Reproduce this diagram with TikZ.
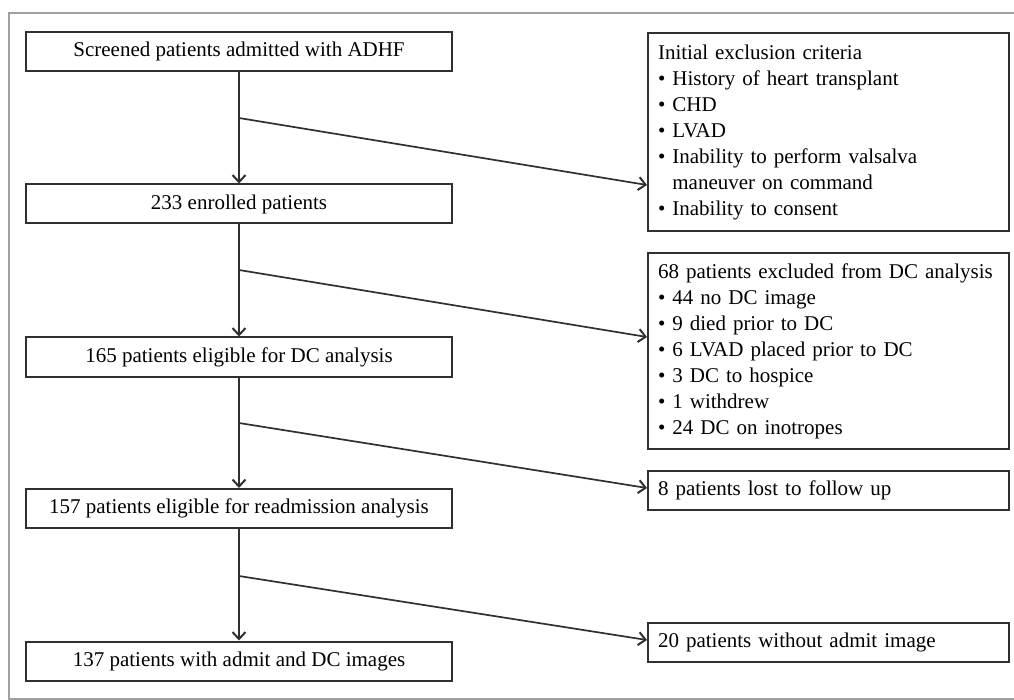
\documentclass[tikz,border=0pt]{standalone}
\usepackage{fontspec}
\setmainfont{Liberation Serif}
\usetikzlibrary{arrows.meta}
\definecolor{boxgray}{HTML}{303030}
\definecolor{framegray}{HTML}{A0A0A0}
\begin{document}
\begin{tikzpicture}[x=1pt, y=-1pt]
	\tikzstyle{stage} = [draw=boxgray, line width=2pt, minimum width=426pt, minimum height=39pt, inner sep=0pt, text=black, font=\fontsize{21}{26}\selectfont]
	\tikzstyle{excl}  = [draw=boxgray, line width=2pt, anchor=north west, text width=341pt, align=left, inner xsep=10pt, inner ysep=0pt, text=black, font=\fontsize{21}{26}\selectfont]
	\tikzstyle{flow}  = [draw=boxgray, line width=1.7pt, -{Straight Barb[length=7pt, width=13pt, line width=2pt]}]

	\useasboundingbox (0,0) rectangle (1014,700);
	\draw[framegray, line width=2.2pt] (9,13) rectangle (1018,699);

	% main flow
	\foreach \name/\y/\txt in {s1/51.5/Screened patients admitted with ADHF, s2/204/233 enrolled patients, s3/357/165 patients eligible for DC analysis, s4/508.5/157 patients eligible for readmission analysis, s5/661/137 patients with admit and DC images}
		\node[stage] (\name) at (239, \y) {\txt};

	% exclusions
	\node[excl, minimum height=198pt] (e1) at (647, 32) {Initial exclusion criteria\\
		• History of heart transplant\\
		• CHD\\
		• LVAD\\
		• Inability to perform valsalva\\
		\hphantom{• }maneuver on command\\
		• Inability to consent};
	\node[excl, minimum height=196pt] (e2) at (647, 252) {68 patients excluded from DC analysis\\
		• 44 no DC image\\
		• 9 died prior to DC\\
		• 6 LVAD placed prior to DC\\
		• 3 DC to hospice\\
		• 1 withdrew\\
		• 24 DC on inotropes};
	\node[excl, minimum height=39pt] (e3) at (647, 470) {8 patients lost to follow up};
	\node[excl, minimum height=39pt] (e4) at (647, 622) {20 patients without admit image};

	% branch points and arrow ends
	\foreach \i/\y/\ty in {1/118/185, 2/270/337, 3/423/488, 4/576/640} {
		\coordinate (b\i) at (239, \y);
		\coordinate (t\i) at (647, \ty);
	}

	\foreach \from/\to in {s1/s2, s2/s3, s3/s4, s4/s5}
		\draw[flow] (\from) -- (\to);

	\foreach \i in {1, 2, 3, 4}
		\draw[flow] (b\i) -- (t\i);
\end{tikzpicture}
\end{document}
